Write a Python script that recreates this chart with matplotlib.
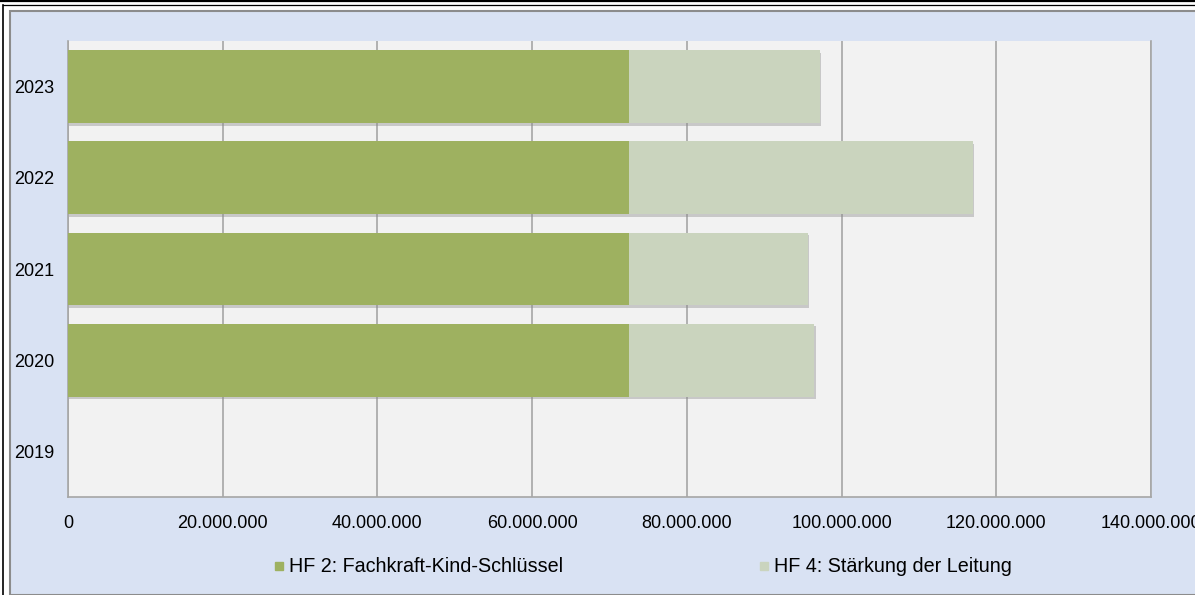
import matplotlib.pyplot as plt
import matplotlib.patheffects as pe
from matplotlib.patches import Rectangle
from matplotlib.lines import Line2D
from matplotlib.ticker import FuncFormatter

plt.rcParams['font.family'] = ['Liberation Sans', 'DejaVu Sans']

years = ['2019', '2020', '2021', '2022', '2023']
hf2 = [0, 72500000, 72500000, 72500000, 72500000]
hf4 = [0, 24000000, 23100000, 44500000, 24700000]
labels = ['HF 2: Fachkraft-Kind-Schlüssel', 'HF 4: Stärkung der Leitung']
colors = ['#9EB160', '#CAD4BE']

W, H = 1195, 595
fig = plt.figure(figsize=(W / 100, H / 100), dpi=100)
fig.patch.set_facecolor('white')

# frame and blue panel
fig.add_artist(Rectangle((10 / W, 0), 1.2, 1 - 11 / H, transform=fig.transFigure,
                         facecolor='#D9E2F3', edgecolor='#8C8C8C', lw=1.5, zorder=0))
fig.add_artist(Line2D([0, 1], [1 - 1 / H, 1 - 1 / H], transform=fig.transFigure,
                      color='black', lw=1.6))
fig.add_artist(Line2D([3 / W, 1], [1 - 4.5 / H, 1 - 4.5 / H], transform=fig.transFigure,
                      color='black', lw=0.9))
fig.add_artist(Line2D([3 / W, 3 / W], [0, 1 - 4.5 / H], transform=fig.transFigure,
                      color='black', lw=1.2))

ax = fig.add_axes([68 / W, 1 - 497 / H, (1151 - 68) / W, (497 - 41) / H])
ax.set_facecolor('#F2F2F2')

shadow = [pe.SimplePatchShadow(offset=(1, -2), shadow_rgbFace='#8A8A8A', alpha=0.4), pe.Normal()]
b1 = ax.barh(years, hf2, height=0.8, color=colors[0], label=labels[0], zorder=3)
b2 = ax.barh(years, hf4, left=hf2, height=0.8, color=colors[1], label=labels[1], zorder=3)
for b in list(b1) + list(b2):
    if b.get_width() > 0:
        b.set_path_effects(shadow)

ax.set_xlim(0, 140000000)
ax.set_ylim(-0.5, 4.5)
ax.xaxis.set_major_formatter(FuncFormatter(lambda v, p: f'{int(v):,}'.replace(',', '.')))
ax.grid(axis='x', color='#A6A6A6', lw=1.2, zorder=1)
ax.tick_params(length=0, labelsize=13, colors='black')
ax.tick_params(axis='x', pad=13)
ax.tick_params(axis='y', pad=39)
for t in ax.get_yticklabels():
    t.set_horizontalalignment('left')
for s in ['left', 'bottom', 'right']:
    ax.spines[s].set_color('#A6A6A6')
    ax.spines[s].set_linewidth(1.2)
ax.spines['top'].set_visible(False)

handles = [Line2D([], [], marker='s', ls='', markersize=6, color=c) for c in colors]
fig.legend(handles, labels, loc='center left', bbox_to_anchor=(271 / W, 1 - 567 / H), ncol=2,
           frameon=False, fontsize=14.2, handletextpad=0.1, columnspacing=9.8, handlelength=0.8,
           borderaxespad=0, borderpad=0)

fig.savefig('out.png', dpi=100)
